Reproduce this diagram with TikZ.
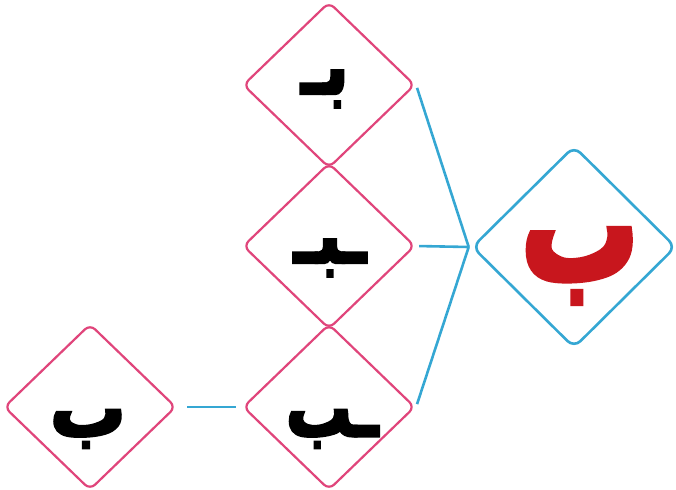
\documentclass[tikz,border=0pt]{standalone}
\usepackage{fontspec}
\usepackage{graphicx}
\TeXXeTstate=1
\newfontfamily\arabicfont[Script=Arabic]{DejaVu Sans}
\usetikzlibrary{shapes.geometric}
\definecolor{pinkline}{HTML}{E0457B}
\definecolor{blueline}{HTML}{35A7D3}
\definecolor{redletter}{HTML}{C8161D}
\newcommand{\heavytext}[2]{\special{pdf:literal direct 2 Tr #1 w}#2\special{pdf:literal direct 0 Tr}}
\tikzset{
  formbox/.style={diamond, draw=pinkline, line width=2.2pt, rounded corners=7pt,
    inner sep=0pt, minimum width=172pt, minimum height=166pt, fill=white},
  mainbox/.style={diamond, draw=blueline, line width=2.6pt, rounded corners=9pt,
    inner sep=0pt, minimum width=204pt, minimum height=202pt, fill=white},
  formletter/.style={inner sep=0pt, font=\arabicfont\bfseries\fontsize{66}{70}\selectfont},
  mainletter/.style={inner sep=0pt, text=redletter, font=\arabicfont\bfseries\fontsize{108}{112}\selectfont},
  link/.style={draw=blueline, line width=2.6pt}
}
\begin{document}
\begin{tikzpicture}[x=1pt,y=-1pt]
\useasboundingbox (0,0) rectangle (676,489);
\node[formbox] (ini) at (329,85) {};
\node[formbox] (med) at (329,246) {};
\node[formbox] (fin) at (329,407) {};
\node[formbox] (iso) at (90,407) {};
\node[mainbox] (main) at (574,247) {};
\node[formletter] (tini) at (325,89) {\scalebox{1}[1.2]{\heavytext{2.5}{\beginR بـ\endR}}};
\node[formletter] (tmed) at (330,258) {\scalebox{1}[1.2]{\heavytext{2.5}{\beginR ـبـ\endR}}};
\node[formletter] (tfin) at (332,429) {\scalebox{1}[1.2]{\heavytext{2.5}{\beginR ـب\endR}}};
\node[formletter] (tiso) at (88,429) {\scalebox{1.15}[1.2]{\heavytext{2.5}{\beginR ب\endR}}};
\node[mainletter] (tmain) at (580,266) {\color{redletter}\scalebox{1.1}[1.45]{\heavytext{4}{\beginR ب\endR}}};
\coordinate (J) at ([xshift=-2pt]main.west);
\draw[link, shorten <=3pt] (ini.east) -- (J);
\draw[link, shorten <=3pt] (med.east) -- (J);
\draw[link, shorten <=3pt] (fin.east) -- (J);
\draw[link, shorten <=10pt, shorten >=6pt] (iso.east) -- (fin.west);
\end{tikzpicture}
\end{document}
